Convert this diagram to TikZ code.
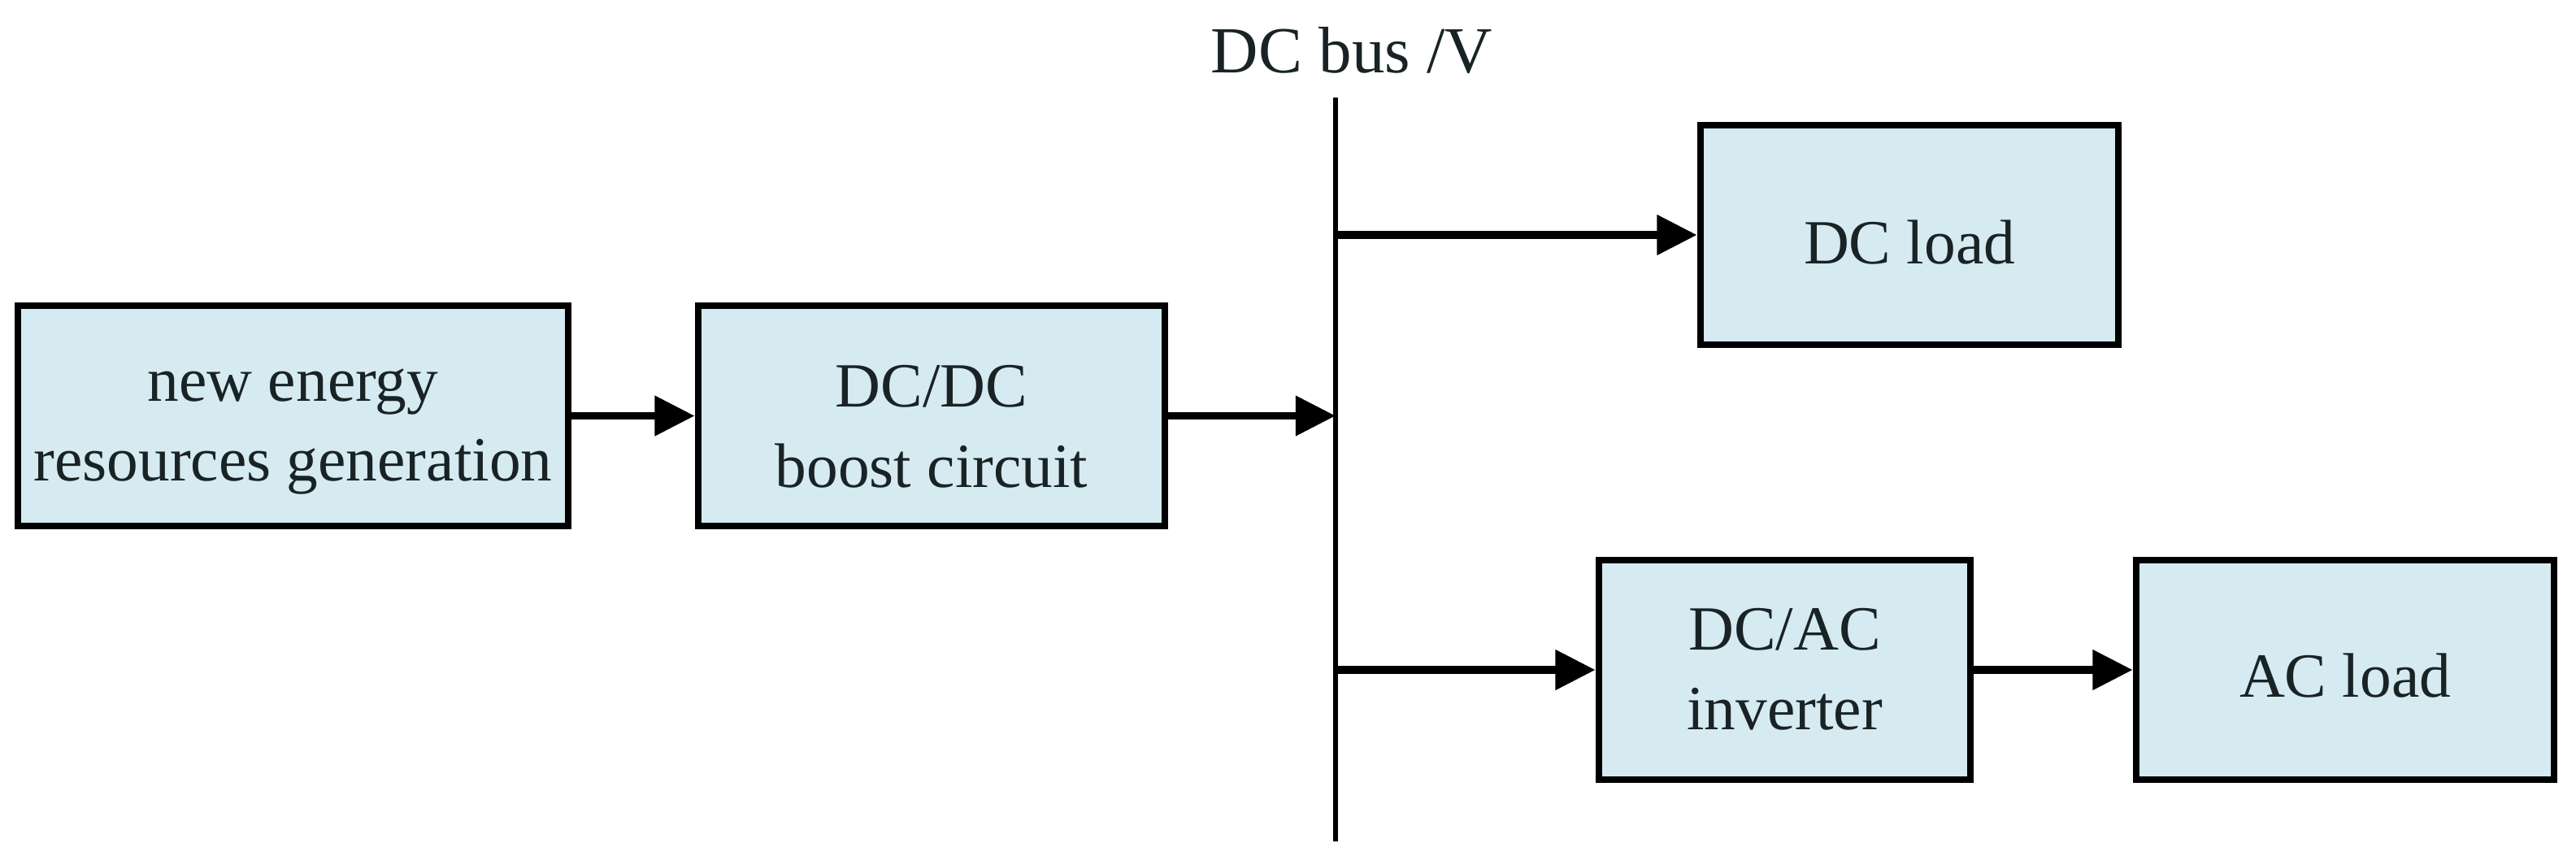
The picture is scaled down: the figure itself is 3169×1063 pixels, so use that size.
\documentclass[tikz,border=0pt]{standalone}
\usepackage{fontspec}
\setmainfont{Liberation Serif}
\usetikzlibrary{arrows.meta}
\definecolor{boxfill}{RGB}{213,234,241}
\definecolor{txt}{RGB}{25,35,38}
\begin{document}
\begin{tikzpicture}[x=0.01cm,y=-0.01cm,
  blk/.style={draw=black,fill=boxfill,line width=2.4pt,rectangle,inner sep=0pt,
    align=center,font=\fontsize{22}{28}\selectfont,text=txt},
  arr/.style={line width=2.7pt,-{Triangle[length=14pt,width=13.5pt]}},
  lbl/.style={font=\fontsize{23}{28}\selectfont,inner sep=0pt,text=txt}]
\useasboundingbox (0,0) rectangle (3169,1063);
\node[blk,minimum width=6.77cm,minimum height=2.71cm,text height=45.5pt,text depth=0pt] (gen) at (360.5,511.5) {new energy\\resources generation};
\node[blk,minimum width=5.74cm,minimum height=2.71cm,text height=50pt,text depth=0pt] (boost) at (1146,511.5) {DC/DC\\boost circuit};
\node[blk,minimum width=5.14cm,minimum height=2.70cm,text height=20pt,text depth=0pt] (dcload) at (2349,289) {DC load};
\node[blk,minimum width=4.57cm,minimum height=2.70cm,text height=42pt,text depth=0pt] (inv) at (2195.5,824) {DC/AC\\inverter};
\node[blk,minimum width=5.14cm,minimum height=2.70cm,text height=19pt,text depth=0pt] (acload) at (2885,824) {AC load};
\coordinate (bustop) at (1643,120);
\coordinate (busbot) at (1643,1035);
\coordinate (busin) at (1643,511.5);
\coordinate (busdc) at (1643,289);
\coordinate (busac) at (1643,824);
\node[lbl,anchor=base] (buslbl) at (1663,89) {DC bus /V};
\draw[line width=1.8pt] (bustop) -- (busbot);
\draw[arr] (gen) -- (boost);
\draw[arr] (boost) -- (busin);
\draw[arr] (busdc) -- (dcload);
\draw[arr] (busac) -- (inv);
\draw[arr] (inv) -- (acload);
\end{tikzpicture}
\end{document}
